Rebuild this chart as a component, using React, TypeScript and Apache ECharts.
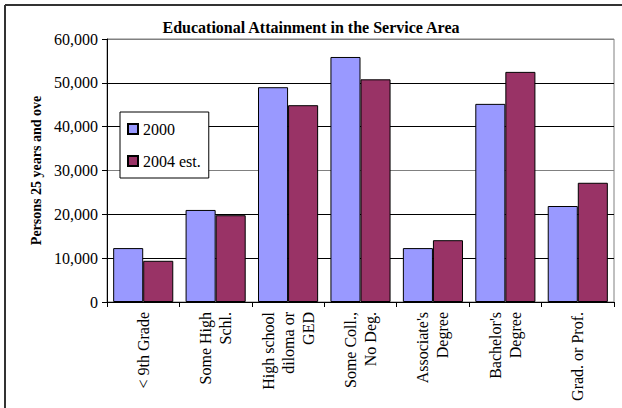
import React, { useEffect, useRef } from "react";
import * as echarts from "echarts";

const categories = [
  "< 9th Grade",
  "Some High\nSchl.",
  "High school\ndiloma or\nGED",
  "Some Coll.,\nNo Deg.",
  "Associate's\nDegree",
  "Bachelor's\nDegree",
  "Grad. or Prof.",
];
const values2000 = [12300, 21000, 49000, 55900, 12300, 45200, 21900];
const values2004 = [9400, 19800, 44900, 50800, 14100, 52500, 27200];
const seriesNames = ["2000", "2004 est."];
const yTicks = [0, 10000, 20000, 30000, 40000, 50000, 60000];

const FONT = "Liberation Serif";

export default function App() {
  const ref = useRef<HTMLDivElement>(null);
  useEffect(() => {
    if (!ref.current) return;
    const chart = echarts.init(ref.current, null, { renderer: "svg" });
    chart.setOption({
      animation: false,
      backgroundColor: "#ffffff",
      textStyle: { fontFamily: FONT, color: "#000", fontWeight: "normal" },
      title: {
        text: "Educational Attainment in the Service Area",
        left: "center",
        top: 14,
        textStyle: { fontFamily: FONT, fontSize: 16, fontWeight: "bold", color: "#000" },
      },
      graphic: [
        {
          type: "line",
          shape: { x1: 5, y1: 5, x2: 640, y2: 5 },
          style: { stroke: "#333", lineWidth: 2 },
          silent: true,
          z: 100,
        },
        {
          type: "line",
          shape: { x1: 5, y1: 5, x2: 5, y2: 420 },
          style: { stroke: "#333", lineWidth: 2 },
          silent: true,
          z: 100,
        },
      ],
      legend: {
        orient: "vertical",
        left: 120,
        top: 112,
        padding: [9, 8, 9, 7],
        itemGap: 16,
        itemWidth: 10,
        itemHeight: 10,
        backgroundColor: "#fff",
        borderColor: "#000",
        borderWidth: 1,
        icon: "rect",
        textStyle: { fontFamily: FONT, fontSize: 16, color: "#000" },
        data: seriesNames,
      },
      grid: {
        left: 107,
        right: 8,
        top: 39,
        bottom: 106,
        show: true,
        borderColor: "#808080",
        borderWidth: 1,
        containLabel: false,
      },
      xAxis: {
        type: "category",
        data: categories,
        axisLine: { lineStyle: { color: "#000", width: 1 } },
        axisTick: { show: true, alignWithLabel: false, length: 5, interval: 0, lineStyle: { color: "#000" } },
        axisLabel: {
          interval: 0,
          rotate: 90,
          margin: 10,
          fontSize: 16,
          lineHeight: 20,
          fontFamily: FONT,
          color: "#000",
        },
      },
      yAxis: {
        type: "value",
        min: yTicks[0],
        max: yTicks[yTicks.length - 1],
        interval: 10000,
        name: "Persons 25 years and ove",
        nameLocation: "middle",
        nameRotate: 90,
        nameGap: 62,
        nameTextStyle: { fontFamily: FONT, fontSize: 14, fontWeight: "bold", color: "#000" },
        axisLine: { show: true, lineStyle: { color: "#000", width: 1 } },
        axisTick: { show: true, length: 5, lineStyle: { color: "#000" } },
        axisLabel: {
          fontSize: 16,
          fontFamily: FONT,
          color: "#000",
          margin: 9,
          formatter: (v: number) => v.toLocaleString("en-US"),
        },
        splitLine: {
          show: true,
          lineStyle: {
            color: ["#000", "#000", "#000", "#808080", "#000", "#000", "#808080"],
            width: 1,
          },
        },
      },
      series: [
        {
          name: seriesNames[0],
          type: "bar",
          data: values2000,
          barGap: "0%",
          barCategoryGap: "17%",
          itemStyle: { color: "#9999FF", borderColor: "#000", borderWidth: 1 },
        },
        {
          name: seriesNames[1],
          type: "bar",
          data: values2004,
          barGap: "0%",
          barCategoryGap: "17%",
          itemStyle: { color: "#993366", borderColor: "#000", borderWidth: 1 },
        },
      ],
    });
    return () => chart.dispose();
  }, []);
  return (
    <div
      ref={ref}
      style={{ position: "absolute", left: 0, top: 0, width: 622, height: 408 }}
    />
  );
}
